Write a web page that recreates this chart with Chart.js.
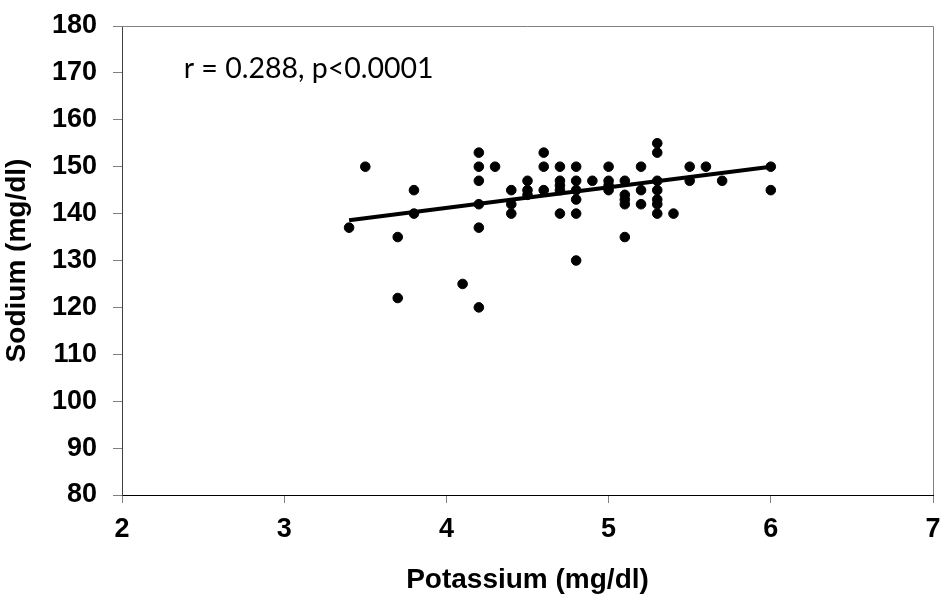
<!DOCTYPE html>
<html>
<head>
<meta charset="utf-8">
<script src="https://cdn.jsdelivr.net/npm/chart.js@4.4.1/dist/chart.umd.min.js"></script>
<style>
  html, body { margin: 0; padding: 0; background: #fff; }
  #wrap { width: 940px; height: 599px; }
</style>
</head>
<body>
<div id="wrap"><canvas id="grafico"></canvas></div>
<script>
// potassium (x) / sodium (y) pairs
var potassio = [3.4, 3.5, 3.7, 3.7, 3.8, 3.8, 4.1,
    4.2, 4.2, 4.2, 4.2, 4.2, 4.2, 4.3,
    4.4, 4.4, 4.4, 4.5, 4.5, 4.5,
    4.6, 4.6, 4.6, 4.7, 4.7, 4.7, 4.7, 4.7,
    4.8, 4.8, 4.8, 4.8, 4.8, 4.8, 4.9,
    5.0, 5.0, 5.0, 5.0, 5.1, 5.1, 5.1, 5.1, 5.1,
    5.2, 5.2, 5.2, 5.3, 5.3, 5.3, 5.3, 5.3, 5.3, 5.3,
    5.4, 5.5, 5.5, 5.6, 5.7, 6.0, 6.0];
var sodio = [137, 150, 135, 122, 145, 140, 125,
    153, 150, 147, 142, 137, 120, 150,
    145, 142, 140, 147, 145, 144,
    153, 150, 145, 150, 147, 146, 145, 140,
    150, 147, 145, 143, 140, 130, 147,
    150, 147, 146, 145, 147, 144, 143, 142, 135,
    150, 145, 142, 155, 153, 147, 145, 143, 142, 140,
    140, 150, 147, 150, 147, 150, 145];

// regression line ends
var retaX = [3.4, 6.0];
var retaY = [138.6, 150.0];

var ticksX = [2, 3, 4, 5, 6, 7];
var ticksY = [80, 90, 100, 110, 120, 130, 140, 150, 160, 170, 180];
var textoCorrelacao = 'r = 0.288, p<0.0001';

var pontos = potassio.map(function (k, i) { return { x: k, y: sodio[i] }; });
var reta = retaX.map(function (k, i) { return { x: k, y: retaY[i] }; });

var fonteEixo = { family: '"Liberation Sans", Arial, sans-serif', size: 27, weight: 'bold' };
var fonteTitulo = { family: '"Liberation Sans", Arial, sans-serif', size: 28, weight: 'bold' };

var moldura = {
    id: 'moldura',
    afterDraw: function (chart) {
        var ctx = chart.ctx;
        var a = chart.chartArea;
        ctx.save();
        ctx.strokeStyle = '#808080';
        ctx.lineWidth = 1;
        ctx.beginPath();
        ctx.moveTo(a.left, a.top + 0.5);
        ctx.lineTo(a.right + 0.5, a.top + 0.5);
        ctx.lineTo(a.right + 0.5, a.bottom);
        ctx.stroke();
        // annotation text
        var sx = chart.scales.x, sy = chart.scales.y;
        ctx.fillStyle = '#000';
        ctx.font = '28.5px Lato, "Open Sans", sans-serif';
        ctx.textBaseline = 'alphabetic';
        ctx.textAlign = 'left';
        ctx.fillText(textoCorrelacao, sx.getPixelForValue(2.38), sy.getPixelForValue(168.9));
        ctx.restore();
    }
};

new Chart(document.getElementById('grafico'), {
    type: 'scatter',
    data: {
        datasets: [{
            label: 'Sodium',
            data: pontos,
            backgroundColor: '#000',
            borderColor: '#000',
            pointRadius: 4.8,
            pointHoverRadius: 4.8
        }, {
            label: 'Fit',
            type: 'line',
            data: reta,
            borderColor: '#000',
            borderWidth: 4,
            pointRadius: 0,
            fill: false
        }]
    },
    options: {
        responsive: true,
        maintainAspectRatio: false,
        animation: false,
        layout: { padding: { top: 26, right: 7, left: 0, bottom: 0 } },
        plugins: { legend: { display: false }, tooltip: { enabled: false } },
        scales: {
            x: {
                type: 'linear',
                min: 2, max: 7,
                afterFit: function (s) {
                    s.height = 104;
                    s.paddingLeft = 0;
                    s.paddingRight = 0;
                },
                afterBuildTicks: function (s) { s.ticks = ticksX.map(function (v) { return { value: v }; }); },
                grid: { drawOnChartArea: false, drawTicks: true, tickLength: 8, color: '#808080' },
                border: { color: '#000', width: 1 },
                ticks: { color: '#000', font: fonteEixo, padding: 10, maxRotation: 0 },
                title: { display: true, text: 'Potassium (mg/dl)', color: '#000', font: fonteTitulo, padding: { top: 0, bottom: 2 } }
            },
            y: {
                type: 'linear',
                min: 80, max: 180,
                afterFit: function (s) {
                    s.width = 122;
                    s.paddingTop = 0;
                    s.paddingBottom = 0;
                },
                afterBuildTicks: function (s) { s.ticks = ticksY.map(function (v) { return { value: v }; }); },
                grid: { drawOnChartArea: false, drawTicks: true, tickLength: 9, color: '#808080' },
                border: { color: '#404040', width: 1 },
                ticks: { color: '#000', font: fonteEixo, padding: 16 },
                title: { display: true, text: 'Sodium (mg/dl)', color: '#000', font: fonteTitulo, padding: { top: 0, bottom: 0 } }
            }
        }
    },
    plugins: [moldura]
});
</script>
</body>
</html>
